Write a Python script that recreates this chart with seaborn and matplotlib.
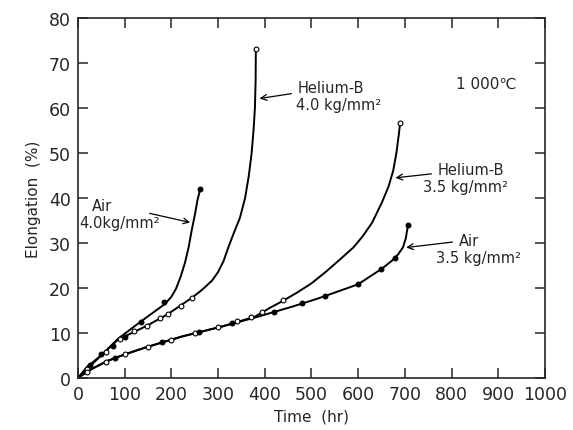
import matplotlib
matplotlib.use("Agg")
import matplotlib.pyplot as plt
import seaborn as sns

# creep curves at 1000 C (time hr, elongation %)
air40_t = [0, 20, 50, 86, 137, 186, 200, 210, 220, 229, 237, 244, 250, 256, 262]
air40_e = [0, 2.5, 5, 8.7, 12.7, 16.4, 18, 19.8, 22.5, 25.5, 29, 33, 36, 39.5, 42]
air40_mt = [25, 50, 75, 100, 135, 185, 262]
air40_me = [2.8, 5.2, 7, 9, 12.4, 16.8, 42]

he40_t = [0, 50, 86, 148, 193, 244, 265, 287, 300, 312, 322, 335, 347, 358, 366,
          372, 376, 379, 380.5, 381]
he40_e = [0, 5, 8.5, 11.6, 14.2, 17.8, 19.5, 21.6, 23.5, 26, 29, 32.5, 35.6, 40, 45,
          50, 55, 60, 66, 73]
he40_mt = [20, 60, 90, 120, 148, 175, 193, 220, 244, 381]
he40_me = [2, 5.8, 8.7, 10.5, 11.6, 13.2, 14.2, 16, 17.8, 73]

he35_t = [0, 30, 64, 100, 143, 223, 308, 379, 410, 437, 470, 500, 530, 561, 590,
          610, 630, 651, 665, 675, 682, 687, 690]
he35_e = [0, 2, 3.8, 5.2, 6.7, 9.2, 11.4, 13.6, 15.5, 17, 19, 21, 23.5, 26.3, 29,
          31.5, 34.5, 39, 42.5, 46, 50, 54, 56.7]
he35_mt = [20, 60, 100, 150, 200, 250, 300, 340, 370, 395, 440, 690]
he35_me = [1.4, 3.6, 5.2, 6.9, 8.4, 9.9, 11.2, 12.6, 13.6, 14.6, 17.2, 56.7]

air35_t = [0, 30, 64, 100, 143, 223, 308, 379, 458, 507, 535, 600, 625, 650, 672,
           686, 696, 702, 707]
air35_e = [0, 2, 3.8, 5.2, 6.7, 9.2, 11.4, 13.4, 15.8, 17.4, 18.4, 20.8, 22.5, 24.2,
           26, 27.5, 29, 31, 34]
air35_mt = [80, 180, 260, 330, 420, 480, 530, 600, 650, 680, 707]
air35_me = [4.5, 8, 10.2, 12.2, 14.6, 16.6, 18.2, 20.8, 24.2, 26.6, 34]

sns.set_style("ticks")
plt.rcParams['font.family'] = ['DejaVu Sans']

fig = plt.figure(figsize=(5.73, 4.31), dpi=100)
ax = fig.add_axes([0.136, 0.121, 0.815, 0.835])

for t, e in [(air40_t, air40_e), (he40_t, he40_e), (he35_t, he35_e), (air35_t, air35_e)]:
    sns.lineplot(x=t, y=e, ax=ax, color='black', lw=1.4, sort=False, estimator=None)

# helium: open circles, air: filled dots
for mt, me, fc in [(he40_mt, he40_me, 'white'), (he35_mt, he35_me, 'white'),
                   (air40_mt, air40_me, 'black'), (air35_mt, air35_me, 'black')]:
    sns.scatterplot(x=mt, y=me, ax=ax, s=12, facecolor=fc, edgecolor='black',
                    linewidth=0.8, zorder=3)

ax.set_xlim(0, 1000)
ax.set_ylim(0, 80)
ax.set_xticks(range(0, 1001, 100))
ax.set_yticks(range(0, 81, 10))
ax.tick_params(direction='in', length=7, width=1.1, top=True, right=True,
               labelsize=12.5, pad=5)
for s in ax.spines.values():
    s.set_linewidth(1.2)

ax.set_xlabel('Time  (hr)', fontsize=11)
ax.set_ylabel('Elongation  (%)', fontsize=11, labelpad=6)

ax.text(810, 65.5, '1 000℃', fontsize=11, va='center')

kw = dict(fontsize=10.5, va='center', ha='left')
arrow = dict(arrowstyle='->', color='black', lw=0.9)
ax.annotate('Helium-B', xy=(383, 62), xytext=(470, 64.5), arrowprops=arrow, **kw)
ax.text(468, 60.8, '4.0 kg/mm²', **kw)
ax.annotate('Helium-B', xy=(674, 44.4), xytext=(770, 46.3), arrowprops=arrow, **kw)
ax.text(738, 42.6, '3.5 kg/mm²', **kw)
ax.annotate('Air', xy=(697, 28.9), xytext=(815, 30.6), arrowprops=arrow, **kw)
ax.text(767, 26.8, '3.5 kg/mm²', **kw)
ax.text(30, 38.4, 'Air', **kw)
ax.text(3, 34.6, '4.0kg/mm²', **kw)
ax.annotate('', xy=(246, 34.4), xytext=(148, 36.7), arrowprops=arrow)

fig.savefig('out.png', dpi=100)
